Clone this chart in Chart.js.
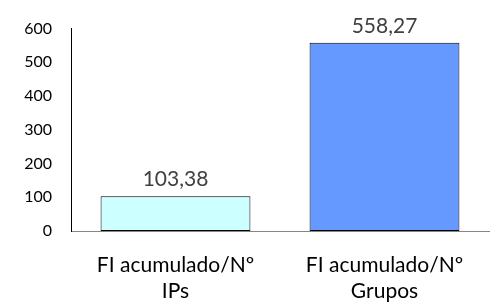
<!DOCTYPE html>
<html><head><meta charset="utf-8">
<script src="https://cdn.jsdelivr.net/npm/chart.js@4/dist/chart.umd.min.js"></script>
<style>html,body{margin:0;padding:0;background:#fff}#w{width:491px;height:304px}</style>
</head><body><div id="w"><canvas id="c"></canvas></div>
<script>
const categories = [["FI acumulado/Nº","IPs"],["FI acumulado/Nº","Grupos"]];
const values = [103.38, 558.27];
const valueLabels = ["103,38","558,27"];
const yTicks = [0,100,200,300,400,500,600];
const barColors = ["#CCFFFF","#6699FF"];

const FONT = "Lato, 'Open Sans', sans-serif";

const labelPlugin = {
  id:'vlabels',
  afterDatasetsDraw(chart){
    const ctx = chart.ctx;
    const meta = chart.getDatasetMeta(0);
    ctx.save();
    ctx.font = "21px " + FONT;
    ctx.fillStyle = "#404040";
    ctx.textAlign = "center";
    ctx.textBaseline = "alphabetic";
    meta.data.forEach((el,i)=>{
      ctx.fillText(valueLabels[i], el.x, el.y - 10);
    });
    ctx.restore();
  }
};

new Chart(document.getElementById('c'),{
  type:'bar',
  data:{labels:categories,datasets:[{data:values,backgroundColor:barColors,borderColor:"#000",borderWidth:1,borderSkipped:false,categoryPercentage:0.717,barPercentage:1}]},
  options:{
    responsive:true,maintainAspectRatio:false,animation:false,
    layout:{padding:{top:24,right:2,left:0,bottom:0}},
    plugins:{legend:{display:false},tooltip:{enabled:false}},
    scales:{
      x:{
        grid:{display:false,drawTicks:false},
        border:{display:true,color:"#868686",width:1},
        ticks:{color:"#000",font:{family:FONT,size:21,lineHeight:1.24},padding:21,maxRotation:0,autoSkip:false},
        afterFit(s){s.height=73;}
      },
      y:{
        min:0,max:600,
        afterBuildTicks(s){s.ticks=yTicks.map(v=>({value:v}));},
        grid:{display:false,drawTicks:false},
        border:{display:true,color:"#000",width:1},
        ticks:{color:"#000",font:{family:FONT,size:16},padding:19},
        afterFit(s){s.width=71;}
      }
    }
  },
  plugins:[labelPlugin]
});
</script></body></html>
